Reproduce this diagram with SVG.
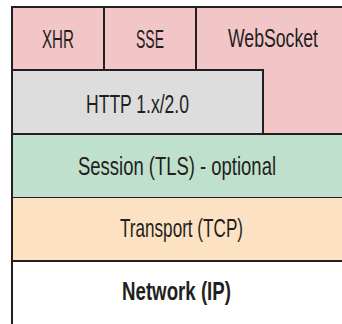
<svg xmlns="http://www.w3.org/2000/svg" width="342" height="324" viewBox="0 0 342 324">
<style>
.b{stroke:#231f20;stroke-width:2;fill:none}
.t{font-family:"Liberation Sans",Arial,sans-serif;font-size:25px;fill:#231f20}
</style>
<rect width="342" height="324" fill="#ffffff"/>
<g id="websocket"><rect x="196" y="7" width="146" height="127" fill="#f2c5c7"/><path class="b" d="M196 7H342"/><text class="t" x="228" y="47" textLength="90" lengthAdjust="spacingAndGlyphs">WebSocket</text></g>
<g id="xhr"><rect class="b" x="12" y="7" width="92" height="63" style="fill:#f2c5c7"/><text class="t" x="42" y="48" textLength="32" lengthAdjust="spacingAndGlyphs">XHR</text></g>
<g id="sse"><rect class="b" x="104" y="7" width="92" height="63" style="fill:#f2c5c7"/><text class="t" x="136" y="48" textLength="28" lengthAdjust="spacingAndGlyphs">SSE</text></g>
<g id="http"><rect class="b" x="12" y="70" width="251" height="64" style="fill:#dddddd"/><text class="t" x="86" y="113" textLength="103" lengthAdjust="spacingAndGlyphs">HTTP 1.x/2.0</text></g>
<g id="session"><rect x="12" y="134" width="330" height="64" fill="#bfe0cc"/><path class="b" d="M342 134H12V198H342"/><text class="t" x="78" y="175" textLength="198" lengthAdjust="spacingAndGlyphs">Session (TLS) - optional</text></g>
<g id="transport"><rect x="12" y="198" width="330" height="63" fill="#fde1c3"/><path class="b" d="M12 198V261H342"/><text class="t" x="120" y="237" textLength="123" lengthAdjust="spacingAndGlyphs">Transport (TCP)</text></g>
<g id="network"><path class="b" d="M12 261V324"/><text class="t" x="122" y="300" font-weight="bold" textLength="109" lengthAdjust="spacingAndGlyphs">Network (IP)</text></g>
<g id="connectors"></g>
</svg>
